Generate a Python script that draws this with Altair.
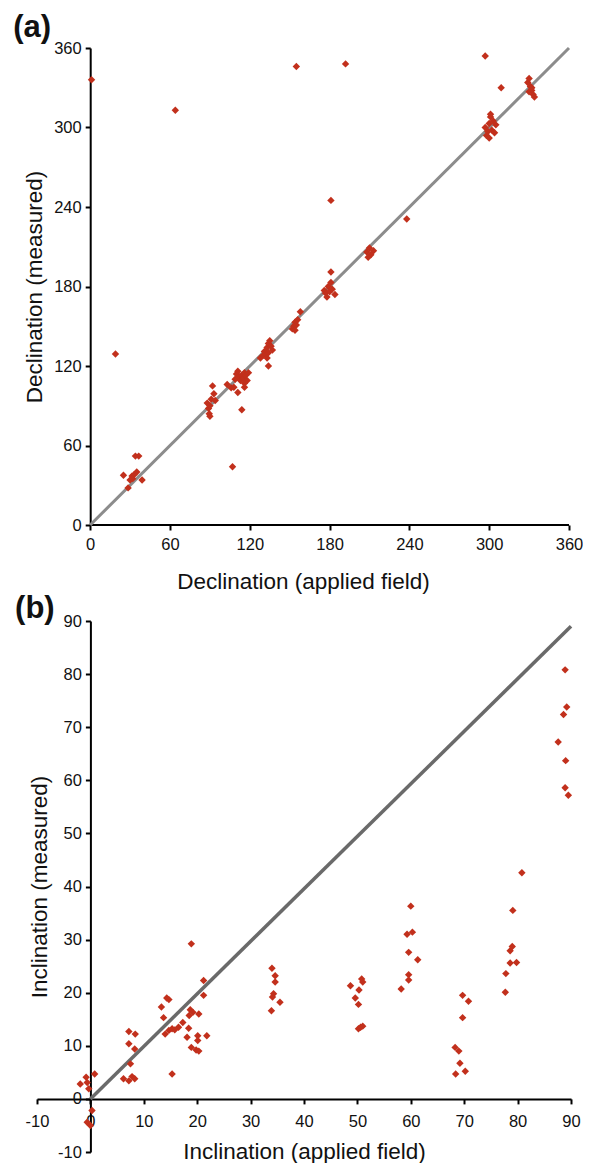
import altair as alt
import pandas as pd

# ---------------- Panel (a): declination ----------------
dec_applied = [1, 64, 155, 192, 297, 309, 19, 107, 181, 238, 114,
               25, 28.5, 30, 31.5, 33, 34, 36.5, 35, 39, 32,
               88, 89, 89.5, 90, 90, 91, 92, 93, 94,
               103, 106, 108,
               109, 110, 111, 112, 113, 114, 115, 116, 117, 118, 119, 116, 111, 116,
               128, 130, 131, 132, 133, 134, 135, 136, 137, 134, 134, 133,
               152, 153, 154, 154, 155, 156, 158,
               176, 177, 178, 179, 180, 181, 182, 184, 181,
               208, 210, 211, 213, 209,
               297, 298, 299, 300, 301, 302, 303, 304, 300, 301, 305,
               329, 330, 331, 332, 333, 334, 332, 330]
dec_measured = [336, 313, 346, 348, 354, 330, 129, 44, 245, 231, 87,
                37.5, 28, 34, 37, 38, 52, 52, 40, 34, 35,
                92, 88, 84, 82, 90, 95, 105, 99, 94,
                106, 103.5, 104,
                110, 114, 116, 112, 109, 113, 111, 115, 113, 109, 115, 107, 100, 104,
                126, 128, 131, 129, 134, 137, 139, 135, 132, 130, 120, 126,
                148, 150, 147, 153, 151, 155, 161,
                177, 175, 172, 180, 176, 183, 178, 174, 191,
                206, 209, 204, 207, 202,
                300, 294, 297, 303, 308, 298, 305, 296, 292, 310, 302,
                334, 337, 331, 328, 325, 323, 330, 327]
ref_a_x = [0, 360]
ref_a_y = [0, 360]
ticks_a = [0, 60, 120, 180, 240, 300, 360]
axis_a_start = [0]
axis_a_end = [360]
axis_a_level = [0]

# ---------------- Panel (b): inclination ----------------
inc_applied = [-1.9, -0.8, -0.6, -0.3, 0.8, 0.3, -0.6, 0.0,
               7.2, 8.4, 7.2, 8.3, 7.5, 6.2, 7.2, 7.8, 8.3,
               13.3, 14.3, 14.7, 13.7, 14.0, 14.7, 15.3, 15.3, 16.5, 15.8,
               17.3, 18.1, 18.4, 18.9, 18.7, 18.5, 19.2, 18.9, 19.8, 20.3, 20.1, 20.1, 20.3, 21.2, 21.2, 21.8,
               34.0, 34.6, 34.6, 34.3, 34.1, 33.9, 35.5,
               48.7, 49.6, 50.2, 50.3, 50.8, 51.0, 50.2, 51.0, 50.6,
               58.2, 59.3, 60.3, 60.0, 59.6, 61.3, 59.6, 59.6,
               68.3, 69.0, 69.2, 68.4, 70.2, 69.7, 69.7, 70.8,
               80.8, 79.1, 78.6, 79.0, 78.6, 79.8, 77.8, 77.7,
               88.9, 89.2, 88.6, 87.6, 89.0, 88.9, 89.5]
inc_measured = [2.8, 4.1, 3.1, 1.9, 4.7, -2.2, -4.4, -5.0,
                12.7, 12.2, 10.4, 9.4, 6.6, 3.8, 3.4, 4.2, 3.8,
                17.3, 19.0, 18.7, 15.3, 12.2, 12.9, 13.2, 4.7, 13.5, 13.0,
                14.4, 11.6, 13.3, 29.2, 16.8, 15.7, 16.3, 9.7, 9.2, 16.0, 11.9, 11.0, 9.0, 22.3, 19.5, 11.9,
                24.6, 23.2, 22.0, 19.8, 19.2, 16.6, 18.2,
                21.3, 19.0, 17.8, 20.5, 22.6, 22.0, 13.2, 13.7, 13.5,
                20.7, 31.0, 31.4, 36.3, 27.6, 26.2, 23.4, 22.4,
                9.7, 9.0, 6.7, 4.7, 5.2, 15.3, 19.5, 18.4,
                42.6, 35.5, 27.9, 28.7, 25.6, 25.7, 23.6, 20.1,
                80.8, 73.8, 72.4, 67.2, 63.7, 58.6, 57.2]
ref_b_x = [0, 90]
ref_b_y = [0, 89]
ticks_b = [-10, 0, 10, 20, 30, 40, 50, 60, 70, 80, 90]

RED = "#c2301c"
FONT = "Liberation Sans"


def ax(title, values, **kw):
    base = dict(title=title, values=values, grid=False, labelFlush=False,
                labelOverlap=False, domainColor="black", domainWidth=2,
                tickColor="black", tickWidth=2, tickSize=5, labelPadding=4,
                labelFontSize=16.5, labelFont=FONT, labelColor="#111",
                labelExpr="'' + datum.value",
                titleFontSize=22.5, titleFont=FONT, titleFontWeight="normal",
                titleColor="#111")
    base.update(kw)
    return alt.Axis(**base)


# Panel a (x domain extended left so both panels share the left plot edge)
WA, HA = 532, 477
da = pd.DataFrame({"x": dec_applied, "y": dec_measured})
la = pd.DataFrame({"x": ref_a_x, "y": ref_a_y})
axa = pd.DataFrame({"x": axis_a_start, "x2": axis_a_end, "y": axis_a_level})
xs_a = alt.Scale(domain=[-40, 360], nice=False, zero=False)
ys_a = alt.Scale(domain=[0, 360], nice=False, zero=False)
xa = alt.X("x:Q", scale=xs_a,
           axis=ax("Declination (applied field)", ticks_a, domain=False,
                   labelPadding=6, titlePadding=18))
ya = alt.Y("y:Q", scale=ys_a,
           axis=ax("Declination (measured)", ticks_a, offset=-WA * 40 / 400,
                   titlePadding=7))
axis_line_a = alt.Chart(axa).mark_rule(color="black", strokeWidth=2).encode(
    x=xa, x2="x2:Q", y=ya)
line_a = alt.Chart(la).mark_line(color="#8c8c8c", strokeWidth=3).encode(x=xa, y=ya)
pts_a = alt.Chart(da).mark_point(shape="diamond", filled=True, size=55,
                                 color=RED, opacity=1).encode(x=xa, y=ya)
panel_a = alt.layer(axis_line_a, line_a, pts_a).properties(
    width=WA, height=HA,
    title=alt.TitleParams("(a)", anchor="start", frame="bounds", fontSize=31,
                          font=FONT, fontWeight="bold", color="#111", dx=-10.5, offset=-4))

# Panel b
WB, HB = 534, 531
db = pd.DataFrame({"x": inc_applied, "y": inc_measured})
lb = pd.DataFrame({"x": ref_b_x, "y": ref_b_y})
xb = alt.X("x:Q", scale=alt.Scale(domain=[-10, 90], nice=False, zero=False),
           axis=ax("Inclination (applied field)", ticks_b, offset=-HB * 0.1,
                   labelPadding=10, titlePadding=10))
yb = alt.Y("y:Q", scale=alt.Scale(domain=[-10, 90], nice=False, zero=False),
           axis=ax("Inclination (measured)", ticks_b, offset=-WB * 0.1, titlePadding=6))
line_b = alt.Chart(lb).mark_line(color="#6a6a6a", strokeWidth=3.5).encode(x=xb, y=yb)
pts_b = alt.Chart(db).mark_point(shape="diamond", filled=True, size=55,
                                 color=RED, opacity=1).encode(x=xb, y=yb)
panel_b = alt.layer(line_b, pts_b).properties(
    width=WB, height=HB,
    title=alt.TitleParams("(b)", anchor="start", frame="bounds", fontSize=31,
                          font=FONT, fontWeight="bold", color="#111", dx=-10, offset=-12))

chart = alt.vconcat(panel_a, panel_b, spacing=0).properties(
    padding={"left": 5, "top": 4, "right": 0, "bottom": 0}
).configure_view(stroke=None)

chart.save("out.html", embed_options={"renderer": "svg", "actions": False})
